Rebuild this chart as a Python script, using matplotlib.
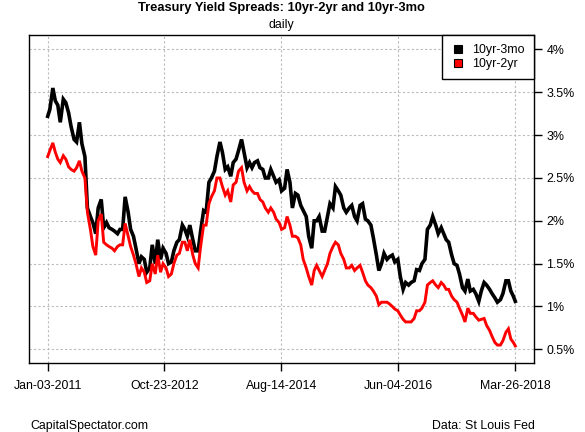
import pandas as pd
import matplotlib
matplotlib.use("Agg")
import matplotlib.pyplot as plt
import matplotlib.dates as mdates
from matplotlib.lines import Line2D

plt.rcParams['font.family'] = ['Liberation Sans', 'DejaVu Sans']

# Semi-monthly readings (1st and 15th), plus first and last trading day
start_date = "2011-01-03"
end_date = "2018-03-26"
mid_dates = pd.date_range("2011-01-15", "2018-03-15", freq="SMS")
dates = pd.DatetimeIndex([pd.Timestamp(start_date)] + list(mid_dates) + [pd.Timestamp(end_date)])

# 10yr-3mo spread (%)
spread_3mo = (
    [3.22, 3.3, 3.55, 3.4, 3.35, 3.15, 3.42, 3.38, 3.26, 3.1, 2.95, 2.92, 3.15, 2.9, 2.75, 2.15, 2.05, 1.98, 1.85, 2.15, 2.25, 1.92, 1.98, 1.92]
    + [1.9, 1.88, 1.85, 1.9, 1.9, 2.28, 2.1, 1.9, 1.82, 1.68, 1.5, 1.58, 1.55, 1.4, 1.45, 1.72, 1.5, 1.78, 1.55, 1.68, 1.62, 1.5, 1.52, 1.65]
    + [1.75, 1.78, 1.95, 1.9, 1.82, 1.95, 1.78, 1.65, 1.65, 1.88, 2.12, 2.1, 2.45, 2.5, 2.58, 2.75, 2.92, 2.8, 2.6, 2.63, 2.52, 2.68, 2.72, 2.82]
    + [2.95, 2.8, 2.62, 2.68, 2.62, 2.68, 2.7, 2.62, 2.6, 2.5, 2.5, 2.6, 2.52, 2.45, 2.48, 2.35, 2.38, 2.6, 2.45, 2.15, 2.32, 2.3, 2.18, 2.12]
    + [2.05, 1.82, 1.68, 2.0, 2.0, 2.05, 1.88, 1.88, 2.05, 2.2, 2.15, 2.4, 2.35, 2.3, 2.15, 2.1, 2.15, 2.18, 2.05, 2.0, 2.18, 2.2, 2.02, 2.0]
    + [1.95, 1.8, 1.6, 1.42, 1.5, 1.62, 1.55, 1.58, 1.6, 1.52, 1.55, 1.35, 1.2, 1.28, 1.25, 1.28, 1.3, 1.43, 1.42, 1.5, 1.55, 1.9, 1.95, 2.05]
    + [1.95, 1.85, 1.92, 1.85, 1.78, 1.75, 1.6, 1.5, 1.48, 1.38, 1.22, 1.18, 1.32, 1.18, 1.2, 1.15, 1.06, 1.18, 1.28, 1.25, 1.2, 1.15, 1.1, 1.05]
    + [1.08, 1.15, 1.3, 1.3, 1.18, 1.12, 1.06]
)

# 10yr-2yr spread (%)
spread_2yr = (
    [2.75, 2.82, 2.91, 2.8, 2.72, 2.68, 2.76, 2.72, 2.63, 2.6, 2.58, 2.62, 2.7, 2.58, 2.5, 2.1, 1.9, 1.7, 1.6, 2.0, 2.08, 1.75, 1.72, 1.7]
    + [1.68, 1.65, 1.7, 1.72, 1.72, 1.97, 1.82, 1.7, 1.6, 1.5, 1.35, 1.45, 1.4, 1.28, 1.3, 1.5, 1.38, 1.6, 1.4, 1.5, 1.45, 1.35, 1.38, 1.5]
    + [1.6, 1.62, 1.75, 1.75, 1.65, 1.78, 1.6, 1.5, 1.45, 1.7, 1.95, 1.95, 2.2, 2.28, 2.35, 2.5, 2.5, 2.4, 2.3, 2.35, 2.22, 2.42, 2.45, 2.58]
    + [2.62, 2.45, 2.35, 2.4, 2.35, 2.32, 2.32, 2.25, 2.22, 2.15, 2.1, 2.15, 2.1, 2.02, 1.98, 1.9, 1.92, 2.05, 1.95, 1.82, 1.82, 1.8, 1.72, 1.55]
    + [1.45, 1.35, 1.25, 1.42, 1.48, 1.42, 1.35, 1.42, 1.5, 1.62, 1.7, 1.75, 1.72, 1.62, 1.55, 1.45, 1.45, 1.48, 1.42, 1.45, 1.48, 1.4, 1.3, 1.25]
    + [1.22, 1.18, 1.12, 1.02, 1.05, 1.05, 1.05, 1.03, 1.0, 0.97, 0.95, 0.9, 0.85, 0.82, 0.82, 0.82, 0.86, 0.95, 0.95, 0.98, 1.05, 1.25, 1.28, 1.3]
    + [1.25, 1.22, 1.28, 1.25, 1.2, 1.2, 1.12, 1.08, 1.05, 0.98, 0.9, 0.82, 0.98, 0.92, 0.92, 0.88, 0.84, 0.85, 0.86, 0.78, 0.72, 0.65, 0.58, 0.55]
    + [0.55, 0.6, 0.7, 0.74, 0.62, 0.58, 0.54]
)

x_tick_dates = ["2011-01-03", "2012-10-23", "2014-08-14", "2016-06-04", "2018-03-26"]
y_ticks = [0.5, 1, 1.5, 2, 2.5, 3, 3.5, 4]
y_tick_labels = ["0.5%", "1%", "1.5%", "2%", "2.5%", "3%", "3.5%", "4%"]

fig = plt.figure(figsize=(5.85, 4.32), dpi=100)
ax = fig.add_axes([29 / 585, 1 - 363.3 / 432, (534 - 29) / 585, (363.3 - 35) / 432])

ax.plot(dates, spread_3mo, color='black', lw=2.6, solid_joinstyle='miter')
ax.plot(dates, spread_2yr, color='red', lw=2.1, solid_joinstyle='miter')

# x range padded 4% like R
span = dates[-1] - dates[0]
ax.set_xlim(dates[0] - span * 0.04, dates[-1] + span * 0.04)
ax.set_ylim(0.337, 4.169)

ax.set_xticks(pd.to_datetime(x_tick_dates))
ax.xaxis.set_major_formatter(mdates.DateFormatter('%b-%d-%Y'))
ax.set_yticks(y_ticks)
ax.set_yticklabels(y_tick_labels)
ax.yaxis.tick_right()
ax.tick_params(axis='x', length=6, width=1, pad=6.3, labelsize=8.9)
ax.tick_params(axis='y', length=5.6, width=1, pad=3.3, labelsize=8.9)

ax.grid(True, color='#bbbbbb', linestyle=(0, (2, 2)), lw=0.8)
ax.set_axisbelow(True)
for s in ax.spines.values():
    s.set_linewidth(1.0)

handles = [
    Line2D([], [], marker='s', linestyle='none', markersize=5.4,
           markerfacecolor='black', markeredgecolor='black', markeredgewidth=0.8),
    Line2D([], [], marker='s', linestyle='none', markersize=5.4,
           markerfacecolor='red', markeredgecolor='black', markeredgewidth=0.8),
]
leg = ax.legend(handles, ['10yr-3mo', '10yr-2yr'], loc='upper right',
                borderaxespad=0, fancybox=False, framealpha=1,
                edgecolor='black', fontsize=8.9, handlelength=1.05,
                handletextpad=0.65, labelspacing=0.15, borderpad=0.75)
leg.get_frame().set_linewidth(1.0)

cx = (29 + 534) / 2 / 585
fig.text(cx, 1 - 7.5 / 432, 'Treasury Yield Spreads: 10yr-2yr and 10yr-3mo',
         ha='center', va='center', fontsize=9.3, fontweight='bold')
fig.text(cx, 1 - 25 / 432, 'daily', ha='center', va='center', fontsize=8.9)
fig.text(30 / 585, 1 - 429 / 432, 'CapitalSpectator.com', ha='left', va='baseline', fontsize=8.9)
fig.text(535 / 585, 1 - 429 / 432, 'Data: St Louis Fed', ha='right', va='baseline', fontsize=8.9)

fig.savefig('out.png', dpi=100)
